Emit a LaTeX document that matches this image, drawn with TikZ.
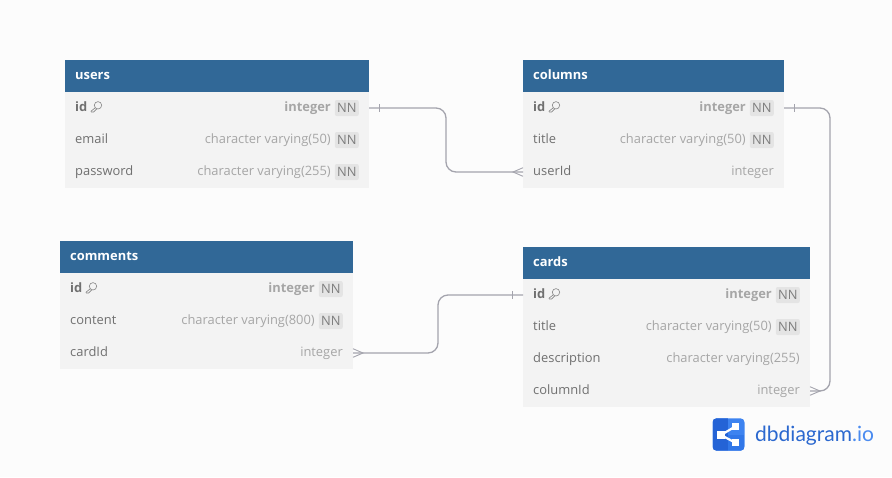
\documentclass[tikz,border=0pt]{standalone}
\usepackage{fontspec}
\setmainfont{Open Sans}
\newfontfamily\logofont{Lato}
\usetikzlibrary{calc}
\definecolor{pagebg}{HTML}{FCFCFC}
\definecolor{headbg}{HTML}{316897}
\definecolor{rowfill}{HTML}{F3F3F3}
\definecolor{nametxt}{HTML}{707070}
\definecolor{typetxt}{HTML}{A6A6A6}
\definecolor{badgebg}{HTML}{E4E4E4}
\definecolor{badgetxt}{HTML}{7E7E7E}
\definecolor{connclr}{HTML}{A4A4AD}
\definecolor{logodark}{HTML}{2463D6}
\definecolor{logolight}{HTML}{3D83F0}
\definecolor{logomid}{HTML}{3177E8}
\definecolor{logotxt}{HTML}{2B68CF}
\definecolor{logotxtb}{HTML}{4A8BF0}
\tikzset{
  x=1pt,y=-1pt,
  headbox/.style={fill=headbg,draw=none,anchor=north west,inner sep=0pt,outer sep=0pt,minimum height=32pt},
  rowbox/.style={fill=rowfill,draw=none,anchor=north west,inner sep=0pt,outer sep=0pt,minimum height=32pt},
  headtxt/.style={anchor=base west,inner sep=0pt,text=white,font=\fontsize{12.9}{15}\selectfont\bfseries},
  nameone/.style={anchor=base west,inner sep=0pt,text=nametxt,font=\fontsize{12.9}{15}\selectfont},
  namekey/.style={nameone,font=\fontsize{12.9}{15}\selectfont\bfseries},
  typeone/.style={anchor=base east,inner sep=0pt,text=typetxt,font=\fontsize{12.9}{15}\selectfont},
  typekey/.style={typeone,font=\fontsize{12.9}{15}\selectfont\bfseries},
  nnbadge/.style={fill=badgebg,rounded corners=2pt,anchor=east,inner sep=0pt,minimum width=24pt,minimum height=16pt,text=badgetxt,font=\fontsize{12.9}{15}\selectfont},
  conn/.style={draw=connclr,line width=1.3pt,rounded corners=10pt},
  connthin/.style={draw=connclr,line width=0.9pt},
  keyicon/.style={draw=nametxt!85,line width=0.6pt},
}
% #1 id, #2 x, #3 y, #4 width, #5 text
\newcommand{\tablehead}[5]{%
  \node[headbox,minimum width=#4pt] (#1) at (#2,#3) {};
  \node[headtxt] at ($(#2,#3)+(10,19)$) {#5};
}
% #1 id, #2 x, #3 y, #4 width, #5 name, #6 type, #7 nn(1/0)
\newcommand{\plainrow}[7]{%
  \node[rowbox,minimum width=#4pt] (#1) at (#2,#3) {};
  \node[nameone] at ($(#2,#3)+(10,19.3)$) {#5};
  \ifnum#7=1
    \node[nnbadge] at ($(#1.east)+(-10,0)$) {NN};
    \node[typeone] at ($(#1.east)+(-38,3.3)$) {#6};
  \else
    \node[typeone] at ($(#1.east)+(-10,3.3)$) {#6};
  \fi
}
% #1 id, #2 x, #3 y, #4 width
\newcommand{\keyrow}[4]{%
  \node[rowbox,minimum width=#4pt] (#1) at (#2,#3) {};
  \node[namekey] at ($(#2,#3)+(10,19.3)$) {id};
  \draw[keyicon] ($(#2,#3)+(33,13.3)$) circle (3.7pt);
  \draw[keyicon] ($(#2,#3)+(30.2,15.8)$) -- ($(#2,#3)+(26,19.2)$) -- ($(#2,#3)+(26.4,20)$) -- ($(#2,#3)+(28.6,20)$) -- ($(#2,#3)+(31.6,17)$);
  \node[nnbadge] at ($(#1.east)+(-10,0)$) {NN};
  \node[typekey] at ($(#1.east)+(-38,3.3)$) {integer};
}
\begin{document}
\begin{tikzpicture}
\useasboundingbox (0,0) rectangle (892,477);
\fill[pagebg] (0,0) rectangle (892,477);

% users
\tablehead{users}{65}{60}{304}{users}
\keyrow{usersid}{65}{92}{304}
\plainrow{usersemail}{65}{124}{304}{email}{character varying(50)}{1}
\plainrow{userspassword}{65}{156}{304}{password}{character varying(255)}{1}

% columns
\tablehead{columns}{523}{60}{261}{columns}
\keyrow{columnsid}{523}{92}{261}
\plainrow{columnstitle}{523}{124}{261}{title}{character varying(50)}{1}
\plainrow{columnsuser}{523}{156}{261}{userId}{integer}{0}

% comments
\tablehead{comments}{60}{241}{293}{comments}
\keyrow{commentsid}{60}{273}{293}
\plainrow{commentscontent}{60}{305}{293}{content}{character varying(800)}{1}
\plainrow{commentscard}{60}{337}{293}{cardId}{integer}{0}

% cards
\tablehead{cards}{523}{247}{287}{cards}
\keyrow{cardsid}{523}{279}{287}
\plainrow{cardstitle}{523}{311}{287}{title}{character varying(50)}{1}
\plainrow{cardsdesc}{523}{343}{287}{description}{character varying(255)}{0}
\plainrow{cardscolumn}{523}{375}{287}{columnId}{integer}{0}

% connector elbows
\coordinate (elbowa) at (446,0);
\coordinate (elbowb) at (830,0);
\coordinate (elbowc) at (438,0);

\begin{scope}[yshift=0.5pt]
\draw[conn] (usersid.east) -- (usersid.east -| elbowa) -- (columnsuser.west -| elbowa) -- (columnsuser.west);
\draw[conn] (columnsid.east) -- (columnsid.east -| elbowb) -- (cardscolumn.east -| elbowb) -- (cardscolumn.east);
\draw[conn] (commentscard.east) -- (commentscard.east -| elbowc) -- (cardsid.west -| elbowc) -- (cardsid.west);
% one ticks
\draw[connthin] ($(usersid.east)+(10,-4)$) -- ++(0,8);
\draw[connthin] ($(columnsid.east)+(10,-4)$) -- ++(0,8);
\draw[connthin] ($(cardsid.west)+(-10.5,-4)$) -- ++(0,8);
% crow feet
\draw[connthin] ($(columnsuser.west)+(0,-4.3)$) -- ($(columnsuser.west)+(-10,0)$) -- ($(columnsuser.west)+(0,4.3)$);
\draw[connthin] ($(commentscard.east)+(0,-4.3)$) -- ($(commentscard.east)+(10,0)$) -- ($(commentscard.east)+(0,4.3)$);
\draw[connthin] ($(cardscolumn.east)+(0,-4.3)$) -- ($(cardscolumn.east)+(10,0)$) -- ($(cardscolumn.east)+(0,4.3)$);
\end{scope}

% logo
\fill[logolight,rounded corners=4pt] (712.5,418.3) rectangle (744.5,450.7);
\begin{scope}
\clip[rounded corners=4pt] (712.5,418.3) rectangle (744.5,450.7);
\fill[logomid] (728,434.5) rectangle (744.5,450.7);
\fill[logodark] (712.5,418.3) rectangle (728,450.7);
\end{scope}
\draw[white,line width=2.2pt] (721,435) -- (735.3,426.5) (721,435) -- (735.3,442.7);
\fill[white] (717.3,431.3) rectangle (724.7,439);
\fill[white] (732,423.3) rectangle (738.7,429.7);
\fill[white] (732,439.4) rectangle (738.7,446.3);
\node[anchor=base west,inner sep=0pt,font=\logofont\fontsize{21}{24}\selectfont,text=logotxt] (logotext) at (755,441) {dbdiagram\textcolor{logotxtb}{.io}};
\end{tikzpicture}
\end{document}
